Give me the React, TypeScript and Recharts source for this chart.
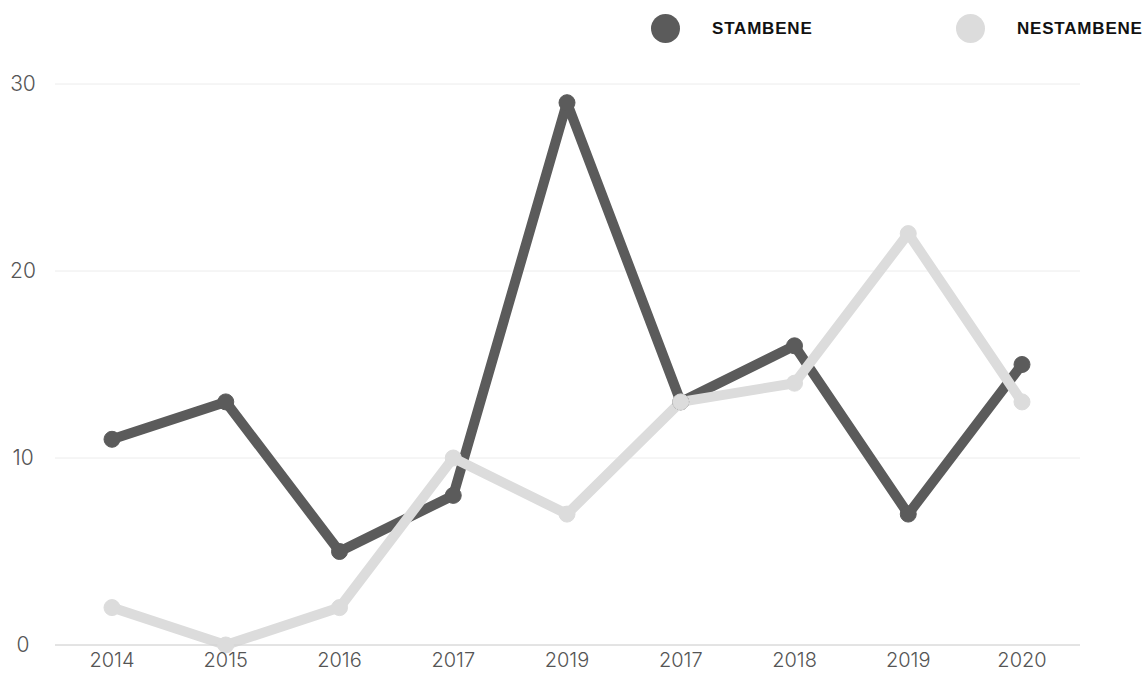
import React from 'react';
import { CartesianGrid, Line, LineChart, XAxis, YAxis } from 'recharts';

const years = ['2014', '2015', '2016', '2017', '2019', '2017', '2018', '2019', '2020'];
const stambene = [11, 13, 5, 8, 29, 13, 16, 7, 15];
const nestambene = [2, 0, 2, 10, 7, 13, 14, 22, 13];
const yTicks = [0, 10, 20, 30];

const DARK = '#5b5b5b';
const LIGHT = '#dcdcdc';
const TICK_FONT = 'Inter, sans-serif';

const data = years.map((year, i) => ({
  idx: i,
  year,
  stambene: stambene[i],
  nestambene: nestambene[i],
}));

const legendItems = [
  { label: 'STAMBENE', color: DARK, left: 651 },
  { label: 'NESTAMBENE', color: LIGHT, left: 956 },
];

function ChartLegend() {
  return (
    <>
      {legendItems.map((item) => (
        <div
          key={item.label}
          style={{
            position: 'absolute',
            left: item.left,
            top: 14,
            display: 'flex',
            alignItems: 'center',
          }}
        >
          <span
            style={{
              width: 29,
              height: 29,
              borderRadius: '50%',
              background: item.color,
              display: 'inline-block',
            }}
          />
          <span
            style={{
              marginLeft: 32,
              fontFamily: '"Liberation Sans", Arial, sans-serif',
              fontWeight: 700,
              fontSize: 17,
              letterSpacing: 0.8,
              color: '#111',
            }}
          >
            {item.label}
          </span>
        </div>
      ))}
    </>
  );
}

function YTick({ y, payload }: any) {
  return (
    <text
      x={23}
      y={y}
      dy={7}
      textAnchor="middle"
      fill="#555"
      fontSize={21}
      fontWeight={300}
      fontFamily={TICK_FONT}
    >
      {payload.value}
    </text>
  );
}

function XTick({ x, y, payload }: any) {
  return (
    <text
      x={x}
      y={y + 14}
      textAnchor="middle"
      fill="#555"
      fontSize={20}
      fontWeight={300}
      fontFamily={TICK_FONT}
    >
      {years[payload.value]}
    </text>
  );
}

export default function App() {
  return (
    <div style={{ position: 'absolute', left: 0, top: 0, width: 1147, height: 675, background: '#fff' }}>
      <LineChart
        width={1147}
        height={675}
        data={data}
        margin={{ top: 84, right: 67, left: 0, bottom: 0 }}
      >
        <CartesianGrid vertical={false} stroke="#ececec" />
        <XAxis
          dataKey="idx"
          type="category"
          height={30}
          axisLine={{ stroke: '#d2d2d2' }}
          tickLine={false}
          padding={{ left: 57, right: 58 }}
          tick={<XTick />}
        />
        <YAxis
          width={55}
          domain={[0, 30]}
          ticks={yTicks}
          axisLine={false}
          tickLine={false}
          tick={<YTick />}
        />
        <Line
          dataKey="stambene"
          stroke={DARK}
          strokeWidth={10}
          strokeLinejoin="round"
          dot={{ r: 8, fill: DARK, stroke: DARK, strokeWidth: 1 }}
          activeDot={false}
          isAnimationActive={false}
        />
        <Line
          dataKey="nestambene"
          stroke={LIGHT}
          strokeWidth={10}
          strokeLinejoin="round"
          dot={{ r: 8, fill: LIGHT, stroke: LIGHT, strokeWidth: 1 }}
          activeDot={false}
          isAnimationActive={false}
        />
      </LineChart>
      <ChartLegend />
    </div>
  );
}
